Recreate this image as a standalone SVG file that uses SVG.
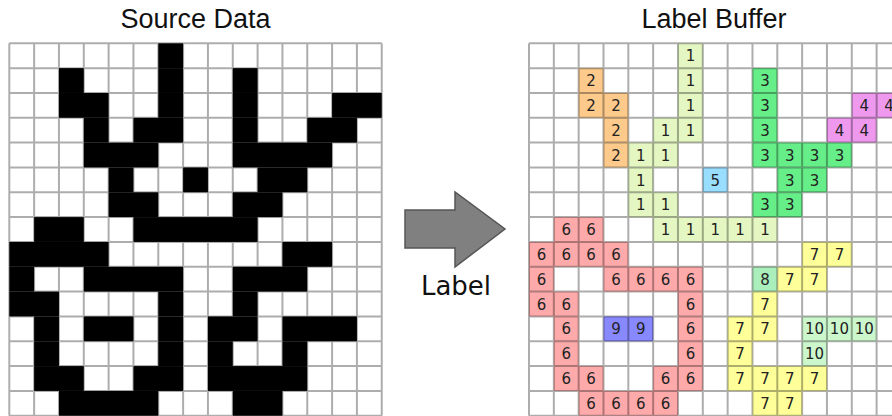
<svg xmlns="http://www.w3.org/2000/svg" width="892" height="416" viewBox="0 0 892 416">
<style>
.title{font-family:"Liberation Sans",Arial,sans-serif;font-size:27px;fill:#111;text-anchor:middle}
.lbl{font-family:"DejaVu Sans",sans-serif;font-size:26px;fill:#111;text-anchor:middle}
.num{font-family:"DejaVu Sans",sans-serif;font-size:15px;fill:#222;text-anchor:middle}
.grid{fill:none;stroke:#000;stroke-opacity:0.32;stroke-width:2}
.b{fill:#000}
.c1{fill:#e4f7c2}.c2{fill:#fdca8b}.c3{fill:#66ee88}.c4{fill:#ee99ee}.c5{fill:#99ddff}
.c6{fill:#ffaaaa}.c7{fill:#ffff99}.c8{fill:#aaeebb}.c9{fill:#8888ff}.c10{fill:#ccf7cc}
</style>
<rect width="892" height="416" fill="#fff"/>
<g id="titles">
<text class="title" x="195.5" y="28">Source Data</text>
<text class="title" x="714" y="28">Label Buffer</text>
</g>
<g id="source-grid">
<g class="b" transform="translate(9.3,43.3) scale(24.83)">
<rect x="6" y="0" width="1" height="1"/>
<rect x="2" y="1" width="1" height="1"/><rect x="6" y="1" width="1" height="1"/><rect x="9" y="1" width="1" height="1"/>
<rect x="2" y="2" width="2" height="1"/><rect x="6" y="2" width="1" height="1"/><rect x="9" y="2" width="1" height="1"/><rect x="13" y="2" width="2" height="1"/>
<rect x="3" y="3" width="1" height="1"/><rect x="5" y="3" width="2" height="1"/><rect x="9" y="3" width="1" height="1"/><rect x="12" y="3" width="2" height="1"/>
<rect x="3" y="4" width="3" height="1"/><rect x="9" y="4" width="4" height="1"/>
<rect x="4" y="5" width="1" height="1"/><rect x="7" y="5" width="1" height="1"/><rect x="10" y="5" width="2" height="1"/>
<rect x="4" y="6" width="2" height="1"/><rect x="9" y="6" width="2" height="1"/>
<rect x="1" y="7" width="2" height="1"/><rect x="5" y="7" width="5" height="1"/>
<rect x="0" y="8" width="4" height="1"/><rect x="11" y="8" width="2" height="1"/>
<rect x="0" y="9" width="1" height="1"/><rect x="3" y="9" width="4" height="1"/><rect x="9" y="9" width="3" height="1"/>
<rect x="0" y="10" width="2" height="1"/><rect x="6" y="10" width="1" height="1"/><rect x="9" y="10" width="1" height="1"/>
<rect x="1" y="11" width="1" height="1"/><rect x="3" y="11" width="2" height="1"/><rect x="6" y="11" width="1" height="1"/><rect x="8" y="11" width="2" height="1"/><rect x="11" y="11" width="3" height="1"/>
<rect x="1" y="12" width="1" height="1"/><rect x="6" y="12" width="1" height="1"/><rect x="8" y="12" width="1" height="1"/><rect x="11" y="12" width="1" height="1"/>
<rect x="1" y="13" width="2" height="1"/><rect x="5" y="13" width="2" height="1"/><rect x="8" y="13" width="4" height="1"/>
<rect x="2" y="14" width="4" height="1"/><rect x="9" y="14" width="2" height="1"/>
</g>
<path class="grid" d="M9.3 43.3v372.45m24.83-372.45v372.45m24.83-372.45v372.45m24.83-372.45v372.45m24.83-372.45v372.45m24.83-372.45v372.45m24.83-372.45v372.45m24.83-372.45v372.45m24.83-372.45v372.45m24.83-372.45v372.45m24.83-372.45v372.45m24.83-372.45v372.45m24.83-372.45v372.45m24.83-372.45v372.45m24.83-372.45v372.45m24.83-372.45v372.45M9.3 43.3h372.45m-372.45 24.83h372.45m-372.45 24.83h372.45m-372.45 24.83h372.45m-372.45 24.83h372.45m-372.45 24.83h372.45m-372.45 24.83h372.45m-372.45 24.83h372.45m-372.45 24.83h372.45m-372.45 24.83h372.45m-372.45 24.83h372.45m-372.45 24.83h372.45m-372.45 24.83h372.45m-372.45 24.83h372.45m-372.45 24.83h372.45m-372.45 24.83h372.45"/>
</g>
<g id="arrow">
<polygon points="405,210 455,210 455,192 505,229 455,267 455,248 405,248" fill="#808080" stroke="#555" stroke-width="1.5" stroke-linejoin="miter"/>
<text class="lbl" x="456" y="295">Label</text>
</g>
<g id="label-grid">
<g transform="translate(529,43.3) scale(24.83)">
<rect class="c1" x="6" y="0" width="1" height="1"/>
<rect class="c2" x="2" y="1" width="1" height="1"/><rect class="c1" x="6" y="1" width="1" height="1"/><rect class="c3" x="9" y="1" width="1" height="1"/>
<rect class="c2" x="2" y="2" width="2" height="1"/><rect class="c1" x="6" y="2" width="1" height="1"/><rect class="c3" x="9" y="2" width="1" height="1"/><rect class="c4" x="13" y="2" width="2" height="1"/>
<rect class="c2" x="3" y="3" width="1" height="1"/><rect class="c1" x="5" y="3" width="2" height="1"/><rect class="c3" x="9" y="3" width="1" height="1"/><rect class="c4" x="12" y="3" width="2" height="1"/>
<rect class="c2" x="3" y="4" width="1" height="1"/><rect class="c1" x="4" y="4" width="2" height="1"/><rect class="c3" x="9" y="4" width="4" height="1"/>
<rect class="c1" x="4" y="5" width="1" height="1"/><rect class="c5" x="7" y="5" width="1" height="1"/><rect class="c3" x="10" y="5" width="2" height="1"/>
<rect class="c1" x="4" y="6" width="2" height="1"/><rect class="c3" x="9" y="6" width="2" height="1"/>
<rect class="c6" x="1" y="7" width="2" height="1"/><rect class="c1" x="5" y="7" width="5" height="1"/>
<rect class="c6" x="0" y="8" width="4" height="1"/><rect class="c7" x="11" y="8" width="2" height="1"/>
<rect class="c6" x="0" y="9" width="1" height="1"/><rect class="c6" x="3" y="9" width="4" height="1"/><rect class="c8" x="9" y="9" width="1" height="1"/><rect class="c7" x="10" y="9" width="2" height="1"/>
<rect class="c6" x="0" y="10" width="2" height="1"/><rect class="c6" x="6" y="10" width="1" height="1"/><rect class="c7" x="9" y="10" width="1" height="1"/>
<rect class="c6" x="1" y="11" width="1" height="1"/><rect class="c9" x="3" y="11" width="2" height="1"/><rect class="c6" x="6" y="11" width="1" height="1"/><rect class="c7" x="8" y="11" width="2" height="1"/><rect class="c10" x="11" y="11" width="3" height="1"/>
<rect class="c6" x="1" y="12" width="1" height="1"/><rect class="c6" x="6" y="12" width="1" height="1"/><rect class="c7" x="8" y="12" width="1" height="1"/><rect class="c10" x="11" y="12" width="1" height="1"/>
<rect class="c6" x="1" y="13" width="2" height="1"/><rect class="c6" x="5" y="13" width="2" height="1"/><rect class="c7" x="8" y="13" width="4" height="1"/>
<rect class="c6" x="2" y="14" width="4" height="1"/><rect class="c7" x="9" y="14" width="2" height="1"/>
</g>
<path class="grid" d="M529 43.3v372.45m24.83-372.45v372.45m24.83-372.45v372.45m24.83-372.45v372.45m24.83-372.45v372.45m24.83-372.45v372.45m24.83-372.45v372.45m24.83-372.45v372.45m24.83-372.45v372.45m24.83-372.45v372.45m24.83-372.45v372.45m24.83-372.45v372.45m24.83-372.45v372.45m24.83-372.45v372.45m24.83-372.45v372.45m24.83-372.45v372.45M529 43.3h372.45m-372.45 24.83h372.45m-372.45 24.83h372.45m-372.45 24.83h372.45m-372.45 24.83h372.45m-372.45 24.83h372.45m-372.45 24.83h372.45m-372.45 24.83h372.45m-372.45 24.83h372.45m-372.45 24.83h372.45m-372.45 24.83h372.45m-372.45 24.83h372.45m-372.45 24.83h372.45m-372.45 24.83h372.45m-372.45 24.83h372.45m-372.45 24.83h372.45"/>
<g class="num">
<text x="690.4" y="61.3">1</text>
<text x="591.1" y="86.1">2</text><text x="690.4" y="86.1">1</text><text x="764.9" y="86.1">3</text>
<text x="591.1" y="111">2</text><text x="615.9" y="111">2</text><text x="690.4" y="111">1</text><text x="764.9" y="111">3</text><text x="864.2" y="111">4</text><text x="889" y="111">4</text>
<text x="615.9" y="135.8">2</text><text x="665.6" y="135.8">1</text><text x="690.4" y="135.8">1</text><text x="764.9" y="135.8">3</text><text x="839.4" y="135.8">4</text><text x="864.2" y="135.8">4</text>
<text x="615.9" y="160.6">2</text><text x="640.7" y="160.6">1</text><text x="665.6" y="160.6">1</text><text x="764.9" y="160.6">3</text><text x="789.7" y="160.6">3</text><text x="814.5" y="160.6">3</text><text x="839.4" y="160.6">3</text>
<text x="640.7" y="185.5">1</text><text x="715.2" y="185.5">5</text><text x="789.7" y="185.5">3</text><text x="814.5" y="185.5">3</text>
<text x="640.7" y="210.3">1</text><text x="665.6" y="210.3">1</text><text x="764.9" y="210.3">3</text><text x="789.7" y="210.3">3</text>
<text x="566.2" y="235.1">6</text><text x="591.1" y="235.1">6</text><text x="665.6" y="235.1">1</text><text x="690.4" y="235.1">1</text><text x="715.2" y="235.1">1</text><text x="740.1" y="235.1">1</text><text x="764.9" y="235.1">1</text>
<text x="541.4" y="259.9">6</text><text x="566.2" y="259.9">6</text><text x="591.1" y="259.9">6</text><text x="615.9" y="259.9">6</text><text x="814.5" y="259.9">7</text><text x="839.4" y="259.9">7</text>
<text x="541.4" y="284.8">6</text><text x="615.9" y="284.8">6</text><text x="640.7" y="284.8">6</text><text x="665.6" y="284.8">6</text><text x="690.4" y="284.8">6</text><text x="764.9" y="284.8">8</text><text x="789.7" y="284.8">7</text><text x="814.5" y="284.8">7</text>
<text x="541.4" y="309.6">6</text><text x="566.2" y="309.6">6</text><text x="690.4" y="309.6">6</text><text x="764.9" y="309.6">7</text>
<text x="566.2" y="334.4">6</text><text x="615.9" y="334.4">9</text><text x="640.7" y="334.4">9</text><text x="690.4" y="334.4">6</text><text x="740.1" y="334.4">7</text><text x="764.9" y="334.4">7</text><text x="814.5" y="334.4">10</text><text x="839.4" y="334.4">10</text><text x="864.2" y="334.4">10</text>
<text x="566.2" y="359.3">6</text><text x="690.4" y="359.3">6</text><text x="740.1" y="359.3">7</text><text x="814.5" y="359.3">10</text>
<text x="566.2" y="384.1">6</text><text x="591.1" y="384.1">6</text><text x="665.6" y="384.1">6</text><text x="690.4" y="384.1">6</text><text x="740.1" y="384.1">7</text><text x="764.9" y="384.1">7</text><text x="789.7" y="384.1">7</text><text x="814.5" y="384.1">7</text>
<text x="591.1" y="408.9">6</text><text x="615.9" y="408.9">6</text><text x="640.7" y="408.9">6</text><text x="665.6" y="408.9">6</text><text x="764.9" y="408.9">7</text><text x="789.7" y="408.9">7</text>
</g>
</g>
</svg>
